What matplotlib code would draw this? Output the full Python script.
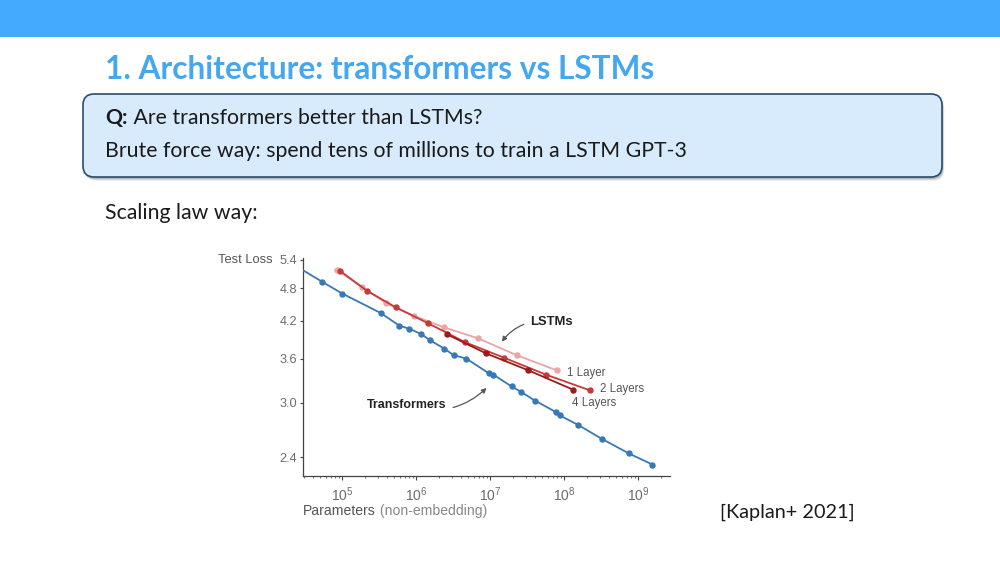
import matplotlib
matplotlib.use('Agg')
import matplotlib.pyplot as plt
import matplotlib.transforms as mtransforms
from matplotlib.patches import Rectangle, FancyBboxPatch
from matplotlib.ticker import FixedLocator, LogLocator, FuncFormatter, NullFormatter
import numpy as np

plt.rcParams['font.family'] = ['Liberation Sans', 'DejaVu Sans']
plt.rcParams['mathtext.fontset'] = 'custom'
plt.rcParams['mathtext.rm'] = 'Liberation Sans'
plt.rcParams['mathtext.it'] = 'Liberation Sans:italic'
plt.rcParams['mathtext.bf'] = 'Liberation Sans:bold'

# ---------------- data ----------------
title = "1. Architecture: transformers vs LSTMs"
q_label = "Q:"
q_text = " Are transformers better than LSTMs?"
brute_text = "Brute force way: spend tens of millions to train a LSTM GPT-3"
scaling_text = "Scaling law way:"
cite_text = "[Kaplan+ 2021]"

trans_params = [2.5e4, 5.4e4, 1.0e5, 3.3e5, 5.9e5, 8.0e5, 1.17e6, 1.53e6, 2.39e6, 3.2e6,
                4.74e6, 9.5e6, 1.1e7, 1.94e7, 2.6e7, 4.0e7, 7.7e7, 8.7e7, 1.55e8,
                3.2e8, 7.4e8, 1.55e9]
trans_loss = [5.24, 4.93, 4.70, 4.34, 4.12, 4.07, 3.98, 3.88, 3.75, 3.65,
              3.60, 3.39, 3.37, 3.21, 3.14, 3.03, 2.89, 2.85, 2.74,
              2.59, 2.44, 2.33]

lstm1_params = [8.6e4, 1.82e5, 3.9e5, 9.3e5, 2.39e6, 6.9e6, 2.27e7, 7.9e7]
lstm1_loss = [5.18, 4.83, 4.52, 4.29, 4.09, 3.91, 3.65, 3.43]

lstm2_params = [9.3e4, 2.13e5, 5.3e5, 1.45e6, 4.55e6, 1.55e7, 5.65e7, 2.22e8]
lstm2_loss = [5.16, 4.76, 4.44, 4.16, 3.85, 3.61, 3.37, 3.16]

lstm4_params = [2.57e6, 8.65e6, 3.27e7, 1.30e8]
lstm4_loss = [3.98, 3.68, 3.43, 3.17]

y_ticks = [2.4, 3.0, 3.6, 4.2, 4.8, 5.4]
y_tick_labels = ["2.4", "3.0", "3.6", "4.2", "4.8", "5.4"]
x_ticks = [1e5, 1e6, 1e7, 1e8, 1e9]

# ---------------- figure ----------------
W, H = 1000, 563
fig = plt.figure(figsize=(W / 100, H / 100), dpi=100)
fig.patch.set_facecolor('white')
px = mtransforms.Affine2D().scale(1 / W, -1 / H).translate(0, 1) + fig.transFigure
renderer = fig.canvas.get_renderer()

def put(x, y, s, width=None, size=12, **kw):
    t = fig.text(x, y, s, transform=px, fontsize=size, **kw)
    if width is not None:
        w = t.get_window_extent(renderer).width
        t.set_fontsize(size * width / w)
    return t

# top bar
fig.add_artist(Rectangle((0, 0), W, 37, transform=px, facecolor='#42abfe',
                         edgecolor='none'))

# callout box with shadow
for off, a in [(4, 0.06), (3, 0.10), (2, 0.16)]:
    fig.add_artist(FancyBboxPatch((83 + off * 0.6, 94 + off), 859, 83,
                                  boxstyle='round,pad=0,rounding_size=11',
                                  transform=px, facecolor='black', alpha=a,
                                  edgecolor='none'))
fig.add_artist(FancyBboxPatch((83, 94), 859, 83,
                              boxstyle='round,pad=0,rounding_size=11',
                              transform=px, facecolor='#d8ebfc',
                              edgecolor='#2a4d6e', linewidth=1.2))

# slide texts
put(105, 79.3, title, width=550, size=22, fontweight='bold', color='#44a7f0',
    family='Lato', va='baseline')
tb = put(105, 157.3, brute_text, width=580, size=15, family='Lato',
         va='baseline', color='#1a1a1a')
fs = tb.get_fontsize()
tq = put(105, 124.3, q_label, size=fs, family='Lato', fontweight='bold',
         va='baseline', color='#1a1a1a')
wq = tq.get_window_extent(renderer).width
put(105 + wq, 124.3, q_text, size=fs, family='Lato', va='baseline',
    color='#1a1a1a')
put(105, 219, scaling_text, size=fs, family='Lato', va='baseline',
    color='#1a1a1a')
put(720, 517.7, cite_text, width=135, size=fs, family='Lato', va='baseline',
    color='#1a1a1a')

# ---------------- chart ----------------
ax = fig.add_axes([0.3033, 0.1551, 0.3667, 0.3867])
ax.set_xscale('log')
ax.set_yscale('log')
ax.set_xlim(10 ** 4.473, 10 ** 9.428)
ax.set_ylim(2.226, 5.44)

lw, ms = 1.3, 3.6
ax.plot(trans_params, trans_loss, '-o', color='#3779b8', lw=lw, ms=ms,
        zorder=3)
ax.plot(lstm1_params, lstm1_loss, '-o', color='#eaa5a5', lw=lw, ms=ms,
        zorder=2)
ax.plot(lstm2_params, lstm2_loss, '-o', color='#c63a3a', lw=lw, ms=ms,
        zorder=3)
ax.plot(lstm4_params, lstm4_loss, '-o', color='#9c1a1a', lw=lw, ms=ms,
        zorder=4)

for s in ['top', 'right']:
    ax.spines[s].set_visible(False)
for s in ['left', 'bottom']:
    ax.spines[s].set_color('#444444')
    ax.spines[s].set_linewidth(0.9)

ax.yaxis.set_major_locator(FixedLocator(y_ticks))
ax.yaxis.set_major_formatter(FuncFormatter(
    lambda v, p: y_tick_labels[y_ticks.index(round(v, 1))] if round(v, 1) in y_ticks else ''))
ax.yaxis.set_minor_locator(FixedLocator([]))
ax.yaxis.set_minor_formatter(NullFormatter())
ax.xaxis.set_major_locator(FixedLocator(x_ticks))
ax.xaxis.set_major_formatter(FuncFormatter(
    lambda v, p: r'$10^{%d}$' % int(round(np.log10(v)))))
ax.xaxis.set_minor_locator(LogLocator(base=10, subs=np.arange(2, 10)))
ax.xaxis.set_minor_formatter(NullFormatter())

ax.tick_params(axis='y', which='major', length=2.2, width=0.8, pad=2,
               color='#444444', labelcolor='#6b6b6b', labelsize=9.2)
ax.tick_params(axis='x', which='major', length=3.2, width=0.8, pad=4,
               color='#444444', labelcolor='#6b6b6b', labelsize=10)
ax.tick_params(axis='x', which='minor', length=1.6, width=0.6,
               color='#555555')

# axis texts
put(218, 260, "Test Loss", width=55, size=9, family='Liberation Sans',
    color='#555555', va='center')
tp = put(303, 511, "Parameters", size=10.1, family='Liberation Sans',
         color='#555555', va='center')
wp = tp.get_window_extent(renderer).width
put(303 + wp, 511, " (non-embedding)", size=10.1, family='Liberation Sans',
    color='#888888', va='center')

# annotations
ax.annotate("LSTMs", xy=(1.43e7, 3.86), xytext=(3.5e7, 4.18),
            fontsize=9.4, fontweight='bold', family='Liberation Sans',
            color='#222222', va='center', ha='left',
            arrowprops=dict(arrowstyle='-|>', color='#555555', lw=0.9,
                            mutation_scale=7, shrinkA=3, shrinkB=0,
                            connectionstyle='arc3,rad=0.3'))
ax.annotate("Transformers", xy=(8.9e6, 3.19), xytext=(2.14e5, 2.975),
            fontsize=8.9, fontweight='bold', family='Liberation Sans',
            color='#222222', va='center', ha='left',
            arrowprops=dict(arrowstyle='-|>', color='#555555', lw=0.9,
                            mutation_scale=7, shrinkA=3, shrinkB=0,
                            connectionstyle='arc3,rad=0.3'))

ax.text(1.08e8, 3.39, "1 Layer", fontsize=8.3, family='Liberation Sans',
        color='#555555', va='center', ha='left')
ax.text(3.03e8, 3.18, "2 Layers", fontsize=8.3, family='Liberation Sans',
        color='#555555', va='center', ha='left')
ax.text(1.26e8, 3.00, "4 Layers", fontsize=8.3, family='Liberation Sans',
        color='#555555', va='center', ha='left')

fig.savefig('out.png', dpi=100, facecolor='white')
